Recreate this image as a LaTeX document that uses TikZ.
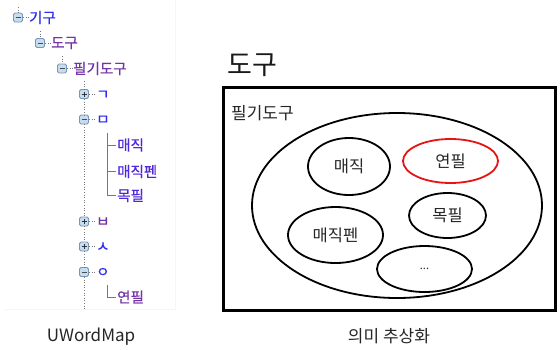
\documentclass[tikz,border=0pt]{standalone}
\usepackage{fontspec}
\setmainfont{Noto Sans CJK KR}
\newfontfamily\treefont[FakeBold=0.5]{Noto Sans CJK KR}
\usetikzlibrary{shapes.geometric}
\definecolor{tblue}{RGB}{45,45,235}
\definecolor{tpurple}{RGB}{115,50,165}
\definecolor{tmid}{RGB}{80,40,220}
\definecolor{boxfill}{RGB}{200,220,240}
\definecolor{boxedge}{RGB}{120,150,185}
\definecolor{dotgray}{RGB}{120,120,120}
\definecolor{pencilred}{RGB}{230,20,20}
\begin{document}
\begin{tikzpicture}[x=1pt,y=-1pt,
  treebox/.style={draw=boxedge, fill=boxfill, rounded corners=1.5pt, minimum size=9pt, inner sep=0pt, line width=0.8pt},
  minusbox/.style={treebox, path picture={\draw[line width=1pt, black!70] ([xshift=-2.5pt]path picture bounding box.center) -- ([xshift=2.5pt]path picture bounding box.center);}},
  plusbox/.style={treebox, path picture={\draw[line width=1pt, black!80] ([xshift=-2.5pt]path picture bounding box.center) -- ([xshift=2.5pt]path picture bounding box.center) ([yshift=-2.5pt]path picture bounding box.center) -- ([yshift=2.5pt]path picture bounding box.center);}},
  treetext/.style={anchor=west, inner sep=0pt, font=\treefont\fontsize{14.5}{16}\selectfont},
  dotline/.style={draw=dotgray, line width=0.6pt, dotted},
  childline/.style={draw=dotgray, line width=0.7pt},
  set/.style={draw=black, ellipse, line width=1.8pt, inner sep=0pt, font=\fontsize{16.5}{18}\selectfont, text=black!85},
]
\useasboundingbox (0,0) rectangle (560,349);
\fill[white] (0,0) rectangle (560,349);
% faint panel border
\draw[black!4, line width=0.6pt] (175,0) -- (175,309) -- (5,309);

% ---- tree ----
\node[minusbox] (b1) at (18,17.5) {};
\node[treetext, text=tblue] (t1) at (29,17.5) {기구};
\node[minusbox] (b2) at (40,43) {};
\node[treetext, text=tpurple] (t2) at (51,43) {도구};
\node[minusbox] (b3) at (62,68.5) {};
\node[treetext, text=tpurple] (t3) at (73,68.5) {필기도구};
\node[plusbox] (b4) at (84,94) {};
\node[treetext, text=tblue] (t4) at (96,95) {ㄱ};
\node[minusbox] (b5) at (84,119.5) {};
\node[treetext, text=tblue] (t5) at (96,120) {ㅁ};
\node[treetext, text=tmid] (c1) at (117,145) {매직};
\node[treetext, text=tmid] (c2) at (117,171.5) {매직펜};
\node[treetext, text=tmid] (c3) at (117,195.5) {목필};
\node[plusbox] (b6) at (84,221.5) {};
\node[treetext, text=tpurple] (t6) at (96,222) {ㅂ};
\node[plusbox] (b7) at (84,246.5) {};
\node[treetext, text=tblue] (t7) at (96,247) {ㅅ};
\node[minusbox] (b8) at (84,272) {};
\node[treetext, text=tblue] (t8) at (96,272.5) {ㅇ};
\node[treetext, text=tpurple] (c4) at (117,297) {연필};

\coordinate (s1) at (18,7);
\coordinate (s2) at (40,31);
\coordinate (s3) at (62,56);
\coordinate (s4) at (84,81);
\coordinate (send) at (84,309);
\coordinate (ctop) at (107,133);
\coordinate (cbot) at (107,195.5);
\coordinate (ctop2) at (107,285);
\coordinate (cbot2) at (107,297);
\coordinate (cm1) at (107,145);
\coordinate (cm2) at (107,171.5);

\draw[dotline] (s1) -- (b1.north);
\draw[dotline] (s2) -- (b2.north);
\draw[dotline] (s3) -- (b3.north);
\draw[dotline] (s4) -- (b4.north);
\draw[dotline] (b4.south) -- (b5.north);
\draw[dotline] (b5.south) -- (b6.north);
\draw[dotline] (b6.south) -- (b7.north);
\draw[dotline] (b7.south) -- (b8.north);
\draw[dotline] (b8.south) -- (send);
\foreach \b/\t in {b1/t1,b2/t2,b3/t3,b4/t4,b5/t5,b6/t6,b7/t7,b8/t8}
  \draw[dotline] (\b.east) -- (\t.west |- \b.east);
\draw[childline] (ctop) -- (cbot) -- ([xshift=-1.5pt]c3.west |- cbot);
\draw[childline] (cm1) -- ([xshift=-1.5pt]c1.west |- cm1);
\draw[childline] (cm2) -- ([xshift=-1.5pt]c2.west |- cm2);
\draw[childline] (ctop2) -- (cbot2) -- ([xshift=-1.5pt]c4.west |- cbot2);

\node[font=\fontsize{17}{19}\selectfont, text=black!85] (cap1) at (91,337) {UWordMap};

% ---- abstraction ----
\node[font=\fontsize{27}{30}\selectfont, text=black!90] (title) at (252,65) {도구};
\node[draw=black, line width=3pt, minimum width=332pt, minimum height=223pt, inner sep=0pt] (frame) at (389,198.5) {};
\node[font=\fontsize{17}{19}\selectfont, text=black!85, anchor=west, inner sep=0pt] (lab) at (231,113) {필기도구};
\node[draw=black, ellipse, line width=1.8pt, minimum width=290pt, minimum height=185pt, inner sep=0pt] (big) at (397,205.5) {};
\node[set, minimum width=82pt, minimum height=57pt] (e1) at (349,166.5) {매직};
\node[set, draw=pencilred, minimum width=95pt, minimum height=44pt] (e2) at (450.5,161) {연필};
\node[set, minimum width=77pt, minimum height=45pt] (e3) at (447.5,215.5) {목필};
\node[set, minimum width=95pt, minimum height=56pt] (e4) at (335.5,235) {매직펜};
\node[set, minimum width=95pt, minimum height=46pt, font=\fontsize{11}{13}\selectfont] (e5) at (424.5,269) {...};
\node[font=\fontsize{17}{19}\selectfont, text=black!85] (cap2) at (389,336) {의미 추상화};
\end{tikzpicture}
\end{document}
